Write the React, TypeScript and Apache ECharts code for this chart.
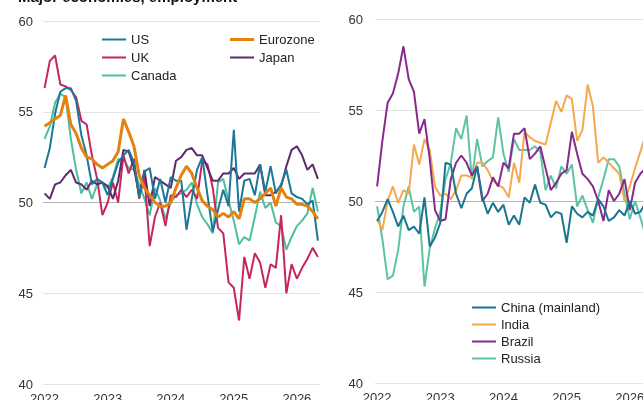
import React, { useEffect, useRef } from "react";
import * as echarts from "echarts";

const years = ["2022", "2023", "2024", "2025", "2026"];
const yearTicks = [0, 12, 24, 36, 48];

// Left panel: major economies (monthly from Jan 2022)
const us = [51.9, 53.0, 54.9, 56.1, 56.3, 56.3, 55.6, 53.7, 52.6, 51.0, 51.3, 51.1, 50.4, 51.3, 52.2, 52.6, 52.9, 52.2, 50.3, 51.7, 51.9, 50.2, 51.3, 50.0, 51.4, 51.2, 51.2, 48.5, 50.2, 51.8, 52.5, 50.4, 48.4, 49.6, 50.7, 49.8, 54.0, 49.5, 51.2, 51.3, 50.4, 52.1, 50.6, 52.0, 50.5, 51.0, 51.8, 50.5, 50.3, 50.2, 49.9, 50.1, 47.9];
const eurozone = [54.2, 54.4, 54.6, 54.8, 55.9, 54.3, 53.8, 53.0, 52.5, 52.4, 52.1, 51.9, 52.1, 52.3, 52.8, 54.6, 53.9, 53.1, 51.5, 50.8, 50.4, 50.0, 49.8, 49.8, 50.0, 50.8, 51.5, 52.0, 51.6, 50.8, 50.1, 49.8, 49.6, 49.2, 49.4, 49.2, 49.5, 49.1, 50.2, 50.2, 50.0, 50.2, 50.5, 50.8, 49.8, 50.8, 50.3, 50.2, 49.9, 49.9, 49.8, 49.5, 49.1];
const uk = [56.3, 57.8, 58.1, 56.5, 56.4, 56.2, 55.8, 54.5, 54.3, 52.6, 51.3, 49.3, 50.0, 51.1, 50.0, 52.6, 51.6, 52.4, 50.2, 51.5, 47.6, 49.2, 50.0, 48.7, 50.4, 50.3, 50.7, 50.3, 50.7, 50.2, 52.3, 52.1, 50.8, 48.6, 48.3, 45.6, 45.3, 43.5, 47.0, 45.8, 47.2, 46.7, 45.3, 46.6, 46.4, 49.3, 45.0, 46.6, 45.8, 46.4, 46.9, 47.5, 47.0];
const japan = [50.5, 50.2, 51.0, 51.1, 51.5, 51.8, 51.1, 51.0, 50.7, 51.2, 51.0, 51.1, 50.9, 50.2, 51.2, 52.9, 52.8, 51.9, 50.4, 51.8, 49.8, 51.4, 51.2, 51.0, 50.8, 52.3, 52.5, 52.9, 53.0, 52.6, 52.6, 51.9, 51.2, 51.2, 51.6, 51.6, 51.9, 51.3, 51.6, 51.6, 51.6, 52.1, 50.4, 50.4, 50.6, 50.9, 52.0, 52.9, 53.1, 52.6, 51.8, 52.1, 51.3];
const canada = [53.5, 54.2, 55.5, 56.0, 55.8, 53.5, 51.8, 50.5, 51.1, 50.2, 51.0, 51.1, 50.8, 51.4, 52.4, 52.4, 51.9, 51.8, 51.0, 50.2, 49.3, 50.8, 50.1, 49.1, 50.0, 50.4, 50.5, 50.7, 51.1, 49.9, 49.2, 48.8, 48.3, 51.1, 51.3, 50.1, 49.0, 47.7, 48.1, 47.9, 49.2, 50.6, 49.7, 50.0, 48.9, 48.7, 47.4, 48.1, 48.7, 49.0, 49.4, 50.8, 49.5];

// Right panel: emerging markets
const china = [48.9, 49.4, 50.1, 49.4, 48.6, 49.2, 48.4, 48.6, 48.2, 50.2, 47.5, 48.0, 48.8, 52.1, 52.0, 50.4, 49.6, 50.4, 50.7, 51.9, 50.2, 49.3, 49.9, 49.4, 49.8, 48.7, 49.2, 48.7, 50.2, 49.9, 50.9, 49.9, 49.8, 49.1, 49.4, 49.3, 47.7, 49.7, 49.3, 49.1, 49.4, 49.2, 50.1, 49.7, 48.9, 49.1, 49.5, 49.2, 50.0, 49.3, 49.4, 49.9, 49.6];
const india = [49.0, 48.4, 50.0, 50.8, 49.9, 50.6, 50.4, 53.1, 52.0, 53.4, 52.8, 50.8, 50.3, 50.4, 50.1, 50.6, 51.4, 51.4, 51.3, 52.1, 52.1, 51.7, 51.1, 50.9, 50.7, 50.2, 52.1, 51.0, 53.8, 53.5, 53.3, 53.2, 53.1, 54.3, 55.5, 54.9, 55.8, 55.6, 53.3, 53.9, 56.4, 55.2, 52.1, 52.4, 52.1, 51.8, 51.5, 50.0, 50.8, 51.8, 52.7, 53.6, 54.0];
const brazil = [50.8, 53.3, 55.4, 55.9, 57.0, 58.5, 56.7, 56.0, 53.7, 54.5, 52.3, 49.5, 48.9, 49.0, 51.2, 52.1, 52.5, 52.1, 51.4, 51.9, 50.0, 50.4, 51.3, 50.8, 52.1, 51.8, 53.7, 53.7, 54.0, 52.3, 52.6, 53.0, 51.8, 50.6, 51.0, 51.5, 51.7, 53.8, 52.6, 51.5, 51.2, 50.8, 50.0, 48.9, 50.6, 50.0, 50.4, 51.2, 49.5, 51.0, 51.5, 51.8, 52.0];
const russia = [49.7, 47.9, 45.7, 45.9, 47.3, 49.7, 50.8, 49.4, 49.7, 45.3, 47.4, 48.5, 49.4, 51.2, 52.1, 54.0, 53.4, 54.7, 51.2, 53.4, 51.9, 52.2, 52.4, 54.6, 52.6, 51.6, 53.4, 52.8, 52.8, 52.8, 53.0, 52.7, 50.6, 51.4, 50.7, 51.9, 51.5, 52.0, 49.7, 50.3, 49.5, 48.8, 50.2, 51.2, 52.3, 52.3, 51.9, 50.4, 49.0, 50.0, 49.1, 48.1, 48.0];

const FONT = "'Liberation Sans', Arial, Helvetica, sans-serif";

const toPoints = (arr: number[]) => arr.map((v, i) => [i, v]);

export default function App() {
  const ref = useRef<HTMLDivElement>(null);

  useEffect(() => {
    document.documentElement.style.overflow = "hidden";
    document.body.style.overflow = "hidden";
    const chart = echarts.init(ref.current!, null, { renderer: "svg" });

    const xAxisBase = (gridIndex: number, min: number, max: number) => ({
      type: "value",
      gridIndex,
      min,
      max,
      axisLine: { show: false },
      axisTick: { show: false },
      splitLine: { show: false },
      axisLabel: {
        customValues: yearTicks,
        formatter: (v: number) => years[Math.round(v / 12)] ?? "",
        fontSize: 13,
        color: "#333",
        margin: 8,
        fontFamily: FONT,
      },
    });

    const yAxisBase = (gridIndex: number, margin: number) => ({
      type: "value",
      gridIndex,
      min: 40,
      max: 60,
      interval: 5,
      axisLine: { show: false },
      axisTick: { show: false },
      axisLabel: { fontSize: 13, color: "#333", margin, fontFamily: FONT },
      splitLine: {
        show: true,
        lineStyle: {
          color: ["#e3e3e3", "#e3e3e3", "#b3b3b3", "#e3e3e3", "#e3e3e3"],
          width: 1,
        },
      },
    });

    const line = (
      name: string,
      data: number[],
      color: string,
      idx: number,
      width = 2
    ) => ({
      name,
      type: "line",
      xAxisIndex: idx,
      yAxisIndex: idx,
      data: toPoints(data),
      symbol: "none",
      showSymbol: false,
      lineStyle: { color, width },
      itemStyle: { color },
      z: 3,
    });

    const legend = (names: string[], left: number, top: number, gap: number, thick = 2) => ({
      orient: "vertical",
      left,
      top,
      padding: 0,
      itemGap: gap,
      icon: "rect",
      itemWidth: 24,
      itemHeight: thick,
      selectedMode: false,
      textStyle: { fontSize: 13, color: "#222", fontFamily: FONT },
      data: names,
    });

    chart.setOption({
      animation: false,
      textStyle: { fontFamily: FONT },
      title: {
        text: "Major economies, employment",
        left: 13,
        top: -16,
        textStyle: { fontSize: 15, fontWeight: "bold", color: "#111", fontFamily: FONT },
      },
      grid: [
        { left: 43, top: 21, width: 277, height: 363, containLabel: false, outerBoundsMode: "none" },
        { left: 375, top: 19, width: 279, height: 364, containLabel: false, outerBoundsMode: "none" },
      ],
      xAxis: [xAxisBase(0, -0.3, 52.4), xAxisBase(1, -0.4, 52.6)],
      yAxis: [yAxisBase(0, 10), yAxisBase(1, 12)],
      legend: [
        legend(["US", "UK", "Canada"], 102, 33, 5),
        legend(["Eurozone"], 230, 33, 5, 3),
        legend(["Japan"], 230, 51, 5),
        legend(["China (mainland)", "India", "Brazil", "Russia"], 472, 301, 4),
      ],
      series: [
        line("Canada", canada, "#4dbf9f", 0),
        line("UK", uk, "#c7265d", 0),
        line("Japan", japan, "#5d2a6c", 0),
        line("US", us, "#1b7896", 0),
        line("Eurozone", eurozone, "#e5820e", 0, 3),
        line("Russia", russia, "#5cc3a4", 1),
        line("India", india, "#f6a84c", 1),
        line("Brazil", brazil, "#872a8d", 1),
        line("China (mainland)", china, "#1a7590", 1),
      ],
    });

    return () => chart.dispose();
  }, []);

  return (
    <div
      ref={ref}
      style={{ position: "fixed", left: 0, top: 0, width: 680, height: 400 }}
    />
  );
}
